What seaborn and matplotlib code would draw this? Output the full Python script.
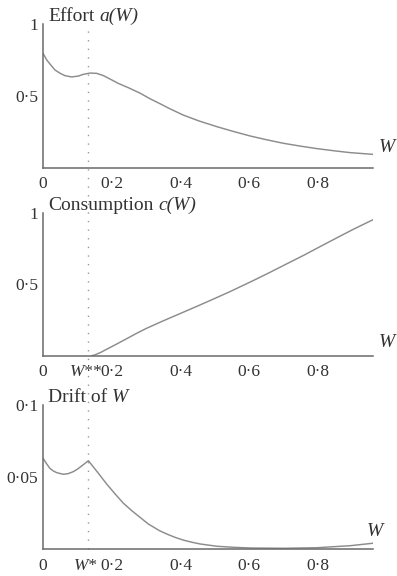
import numpy as np
import pandas as pd
import matplotlib
matplotlib.use("Agg")
import matplotlib.pyplot as plt
import matplotlib.transforms as mtransforms
import seaborn as sns

# values
w_star = 0.132

effort_w = [0.0, 0.011, 0.021, 0.035, 0.050, 0.064, 0.083, 0.103, 0.117, 0.137,
            0.156, 0.176, 0.200, 0.219, 0.250, 0.283, 0.312, 0.339, 0.370, 0.408,
            0.455, 0.506, 0.555, 0.603, 0.650, 0.700, 0.750, 0.797, 0.850, 0.894, 0.960]
effort_a = [0.798, 0.751, 0.721, 0.681, 0.658, 0.642, 0.633, 0.639, 0.651, 0.660,
            0.658, 0.642, 0.612, 0.588, 0.556, 0.519, 0.480, 0.448, 0.410, 0.367,
            0.325, 0.286, 0.252, 0.221, 0.195, 0.170, 0.150, 0.133, 0.117, 0.105, 0.093]

cons_w = [0.142, 0.150, 0.166, 0.185, 0.205, 0.230, 0.253, 0.277, 0.301, 0.350,
          0.399, 0.447, 0.496, 0.544, 0.612, 0.660, 0.709, 0.760, 0.806, 0.855,
          0.903, 0.960]
cons_c = [0.0, 0.005, 0.021, 0.045, 0.070, 0.102, 0.132, 0.163, 0.192, 0.245,
          0.296, 0.346, 0.398, 0.450, 0.528, 0.585, 0.645, 0.707, 0.766, 0.828,
          0.888, 0.955]

drift_w = [0.0, 0.011, 0.020, 0.030, 0.040, 0.059, 0.073, 0.088, 0.100, 0.112,
           0.122, 0.132, 0.146, 0.161, 0.185, 0.210, 0.234, 0.258, 0.282, 0.306,
           0.339, 0.360, 0.384, 0.408, 0.433, 0.457, 0.506, 0.554, 0.603, 0.700,
           0.797, 0.894, 0.960]
drift_v = [0.0631, 0.0591, 0.0561, 0.0543, 0.0531, 0.0520, 0.0524, 0.0538, 0.0555, 0.0577,
           0.0595, 0.0614, 0.0572, 0.0527, 0.0453, 0.0383, 0.0319, 0.0268, 0.0222, 0.0176,
           0.0129, 0.0106, 0.0083, 0.0064, 0.0049, 0.0037, 0.0021, 0.0014, 0.0009, 0.0007,
           0.0011, 0.0025, 0.0042]

x_ticks = [0, 0.2, 0.4, 0.6, 0.8]
x_labels = ["0", "0\u00b72", "0\u00b74", "0\u00b76", "0\u00b78"]

sns.set_theme(style="white")
plt.rcParams["font.family"] = ["Liberation Serif", "DejaVu Serif"]

line_col = "#8c8c8c"
axis_col = "#6a6a6a"
text_col = "#333333"

fig = plt.figure(figsize=(3.97, 5.76), dpi=100)
left, width = 43 / 397, 330 / 397
ax1 = fig.add_axes([left, 1 - 167.7 / 576, width, 143.4 / 576])
ax2 = fig.add_axes([left, 1 - 355.7 / 576, width, 142.4 / 576])
ax3 = fig.add_axes([left, 1 - 549.3 / 576, width, 144.3 / 576])

panels = [
    (ax1, effort_w, effort_a, "Effort", "a(W)", (0, 1), [0.5, 1], ["0\u00b75", "1"], None, 0.144, 1.042),
    (ax2, cons_w, cons_c, "Consumption", "c(W)", (0, 1), [0.5, 1], ["0\u00b75", "1"], "W**", 0.09, 1.042),
    (ax3, drift_w, drift_v, "Drift of", "W", (0, 0.1), [0.05, 0.1], ["0\u00b705", "0\u00b71"], "W*", 0.122, 1.006),
]

for ax, xs, ys, title, title_it, ylim, yt, ytl, wlab, wy, wx in panels:
    df = pd.DataFrame({"W": xs, "v": ys})
    sns.lineplot(data=df, x="W", y="v", ax=ax, color=line_col, lw=1.05,
                 solid_joinstyle="round")
    ax.set_xlim(0, 0.96)
    ax.set_ylim(*ylim)
    ax.set_xlabel("")
    ax.set_ylabel("")
    for s in ["top", "right"]:
        ax.spines[s].set_visible(False)
    for s in ["left", "bottom"]:
        ax.spines[s].set_color(axis_col)
        ax.spines[s].set_linewidth(1.1)
    ax.set_xticks(x_ticks, x_labels)
    ax.set_yticks(yt, ytl)
    ax.tick_params(axis="both", direction="in", length=3, width=1, color=axis_col,
                   labelsize=12.5, labelcolor=text_col)
    ax.tick_params(axis="x", pad=6)
    ax.tick_params(axis="y", pad=3.5)
    ax.xaxis.get_major_ticks()[0].tick1line.set_visible(False)
    if wlab is not None:
        ax.annotate(wlab, xy=(w_star, 0), xycoords=("data", "axes fraction"),
                    xytext=(-2, -6), textcoords="offset points", ha="center", va="top",
                    fontsize=12.5, style="italic", color=text_col)
    t1 = ax.text(0.015, 0.995, title, transform=ax.transAxes, ha="left", va="bottom",
                 fontsize=14, color=text_col)
    ax.annotate(title_it, xy=(1, 0), xycoords=t1, xytext=(3.5, 0),
                textcoords="offset points", ha="left", va="bottom",
                fontsize=14, style="italic", color=text_col)
    ax.text(wx, wy, "W", transform=ax.transAxes, ha="center", va="center",
            fontsize=14, style="italic", color=text_col)
    ax.patch.set_alpha(0)

# dotted marker at W* running through all three panels
trans = mtransforms.blended_transform_factory(ax3.transData, fig.transFigure)
ax3.plot([w_star, w_star], [1 - 549.3 / 576, 1 - 30 / 576], transform=trans,
         clip_on=False, color="#9a9a9a", lw=1.0, linestyle=(0, (1, 5.2)), zorder=0)

fig.savefig("out.png", dpi=100)
